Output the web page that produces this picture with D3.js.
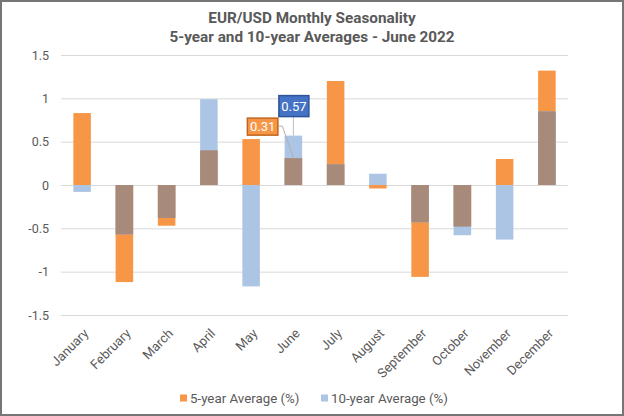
<!DOCTYPE html>
<html>
<head>
<meta charset="utf-8">
<script src="https://cdn.jsdelivr.net/npm/d3@7"></script>
<style>
  body { margin: 0; background: #fff; }
  svg { display: block; font-family: Roboto, "Liberation Sans", sans-serif; }
</style>
</head>
<body>
<div id="chart"></div>
<script>
// data
var months = ["January", "February", "March", "April", "May", "June",
              "July", "August", "September", "October", "November", "December"];
var avg5 = [0.83, -1.12, -0.47, 0.40, 0.53, 0.31, 1.20, -0.04, -1.06, -0.48, 0.30, 1.32];
var avg10 = [-0.08, -0.57, -0.38, 0.99, -1.17, 0.57, 0.24, 0.13, -0.43, -0.58, -0.63, 0.85];
var yTicks = [-1.5, -1, -0.5, 0, 0.5, 1, 1.5];
var seriesNames = ["5-year Average (%)", "10-year Average (%)"];
var titleLines = ["EUR/USD Monthly Seasonality", "5-year and 10-year Averages - June 2022"];

var orange = "#f79646", blue = "#adc5e4", brown = "#a88a7a", textGrey = "#595959";

var width = 624, height = 416;

var svg = d3.select("#chart").append("svg")
    .attr("width", width)
    .attr("height", height);

svg.append("rect")
    .attr("x", 1).attr("y", 1)
    .attr("width", width - 2).attr("height", height - 2)
    .attr("fill", "#fff")
    .attr("stroke", "#767676")
    .attr("stroke-width", 2);

var x = d3.scaleBand()
    .domain(months)
    .range([61, 568])
    .paddingInner(0.585)
    .paddingOuter(0.2925);

var y = d3.scaleLinear()
    .domain([-1.5, 1.5])
    .range([315, 55]);

// title
svg.append("g").selectAll("text")
    .data(titleLines)
    .enter().append("text")
    .attr("x", 312)
    .attr("y", function(d, i) { return 22.5 + i * 19.5; })
    .attr("text-anchor", "middle")
    .attr("font-size", 15.3)
    .attr("font-weight", "bold")
    .attr("fill", textGrey)
    .text(function(d) { return d; });

// gridlines + y labels
var yAxis = svg.append("g")
    .attr("transform", "translate(61,0)")
    .call(d3.axisLeft(y).tickValues(yTicks).tickSize(-507).tickPadding(12)
        .tickFormat(function(d) { return d; }));
yAxis.select(".domain").remove();
yAxis.selectAll(".tick line").attr("stroke", "#d9d9d9");
yAxis.selectAll(".tick text")
    .attr("fill", textGrey)
    .attr("font-size", 12.5)
    .attr("font-family", "Roboto, sans-serif");

var rows = months.map(function(m, i) {
    var a = avg5[i], b = avg10[i];
    var overlap = (a * b > 0) ? (a > 0 ? Math.min(a, b) : Math.max(a, b)) : 0;
    return { month: m, a: a, b: b, overlap: overlap };
});

function barY(v) { return Math.min(y(0), y(v)); }
function barH(v) { return Math.abs(y(v) - y(0)); }

var bars = svg.append("g");

bars.selectAll(".bar5")
    .data(rows)
    .enter().append("rect")
    .attr("class", "bar5")
    .attr("x", function(d) { return x(d.month); })
    .attr("width", x.bandwidth())
    .attr("y", function(d) { return barY(d.a); })
    .attr("height", function(d) { return barH(d.a); })
    .attr("fill", orange);

bars.selectAll(".bar10")
    .data(rows)
    .enter().append("rect")
    .attr("class", "bar10")
    .attr("x", function(d) { return x(d.month); })
    .attr("width", x.bandwidth())
    .attr("y", function(d) { return barY(d.b); })
    .attr("height", function(d) { return barH(d.b); })
    .attr("fill", blue);

bars.selectAll(".overlap")
    .data(rows.filter(function(d) { return d.overlap !== 0; }))
    .enter().append("rect")
    .attr("class", "overlap")
    .attr("x", function(d) { return x(d.month); })
    .attr("width", x.bandwidth())
    .attr("y", function(d) { return barY(d.overlap); })
    .attr("height", function(d) { return barH(d.overlap); })
    .attr("fill", brown);

// month labels, rotated
svg.append("g").selectAll("text")
    .data(months)
    .enter().append("text")
    .attr("transform", function(d) {
        return "translate(" + (x(d) + x.bandwidth() / 2 + 4) + ",331) rotate(-45)";
    })
    .attr("text-anchor", "end")
    .attr("dy", "0.35em")
    .attr("font-size", 13)
    .attr("fill", textGrey)
    .text(function(d) { return d; });

// June callouts
var jx = x("June") + x.bandwidth() / 2;
var j5 = avg5[5], j10 = avg10[5];

var callouts = svg.append("g");
callouts.append("line")
    .attr("x1", jx).attr("x2", jx)
    .attr("y1", y(j10) - 19).attr("y2", y(j10))
    .attr("stroke", "#bfbfbf");
callouts.append("polyline")
    .attr("points", [[jx - 15, y(j5) - 32], [jx - 11, y(j5) - 32], [jx, y(j5)]].join(" "))
    .attr("fill", "none")
    .attr("stroke", "#b0b0b0");

callouts.append("rect")
    .attr("x", jx - 14.5).attr("y", y(j10) - 40)
    .attr("width", 30).attr("height", 21)
    .attr("fill", "#4472c4")
    .attr("stroke", "#2f5597")
    .attr("stroke-width", 1.5);
callouts.append("text")
    .attr("x", jx + 0.5).attr("y", y(j10) - 25)
    .attr("text-anchor", "middle")
    .attr("font-size", 13)
    .attr("fill", "#fff")
    .text(j10.toFixed(2));

callouts.append("rect")
    .attr("x", jx - 46).attr("y", y(j5) - 40)
    .attr("width", 30.5).attr("height", 17)
    .attr("fill", orange)
    .attr("stroke", "#c0651f")
    .attr("stroke-width", 1.5);
callouts.append("text")
    .attr("x", jx - 30.7).attr("y", y(j5) - 27)
    .attr("text-anchor", "middle")
    .attr("font-size", 13)
    .attr("fill", "#fff")
    .text(j5.toFixed(2));

// legend
var legendX = [180, 321];
var legend = svg.append("g").selectAll("g")
    .data(seriesNames)
    .enter().append("g")
    .attr("transform", function(d, i) { return "translate(" + legendX[i] + ",398)"; });
legend.append("rect")
    .attr("x", 0).attr("y", -3.5)
    .attr("width", 7).attr("height", 7)
    .attr("fill", function(d, i) { return i === 0 ? orange : blue; });
legend.append("text")
    .attr("x", 10)
    .attr("dy", "0.35em")
    .attr("font-size", 13.3)
    .attr("fill", textGrey)
    .text(function(d) { return d; });
</script>
</body>
</html>
